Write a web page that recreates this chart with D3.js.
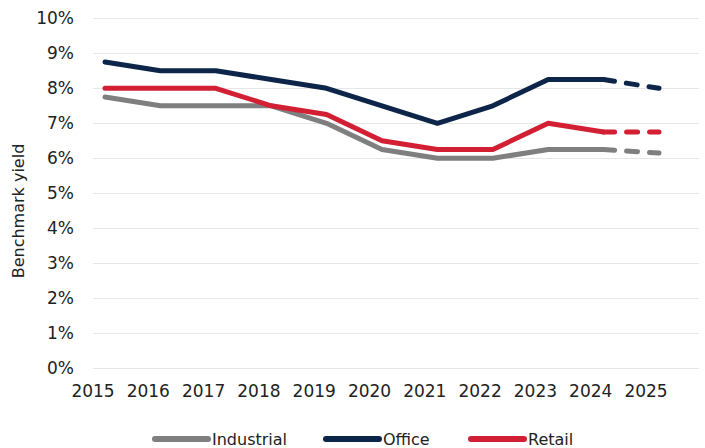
<!DOCTYPE html>
<html>
<head>
<meta charset="utf-8">
<script src="https://cdn.jsdelivr.net/npm/d3@7"></script>
<style>
  html, body { margin: 0; padding: 0; background: #fff; }
  svg { display: block; font-family: "DejaVu Sans", sans-serif; }
</style>
</head>
<body>
<svg id="chart" width="705" height="448"></svg>
<script>
const years = ["2015","2016","2017","2018","2019","2020","2021","2022","2023","2024","2025"];
const industrial = [7.75, 7.5, 7.5, 7.5, 7.0, 6.25, 6.0, 6.0, 6.25, 6.25, 6.15];
const office     = [8.75, 8.5, 8.5, 8.25, 8.0, 7.5, 7.0, 7.5, 8.25, 8.25, 8.0];
const retail     = [8.0, 8.0, 8.0, 7.5, 7.25, 6.5, 6.25, 6.25, 7.0, 6.75, 6.75];
const yTicks = [0,1,2,3,4,5,6,7,8,9,10];
const seriesNames = ["Industrial", "Office", "Retail"];
const seriesColors = ["#7f7f7f", "#0c2548", "#d21f33"];
const forecastFrom = "2024";

const svg = d3.select("#chart");
const x = d3.scalePoint().domain(years).range([105, 659]);
const xLabel = d3.scalePoint().domain(years).range([92.5, 645.5]);
const y = d3.scaleLinear().domain([0, 10]).range([368.3, 18.3]);
const gridX0 = 93, gridX1 = 699;

// gridlines
svg.append("g").selectAll("line").data(yTicks).join("line")
  .attr("x1", gridX0).attr("x2", gridX1)
  .attr("y1", d => Math.round(y(d)) + 0.5).attr("y2", d => Math.round(y(d)) + 0.5)
  .attr("stroke", "#e6e6e6").attr("stroke-width", 1);

// y axis labels
const yAxis = d3.axisLeft(y).tickValues(yTicks).tickFormat(d => d + "%").tickSize(0).tickPadding(0);
const gy = svg.append("g").attr("transform", "translate(74,0)").call(yAxis);
gy.select(".domain").remove();
gy.selectAll("text").attr("font-size", 17).attr("fill", "#222").attr("font-family", "DejaVu Sans, sans-serif");

// x axis labels
const xAxis = d3.axisBottom(xLabel).tickSize(0).tickPadding(0);
const gx = svg.append("g").attr("transform", "translate(0,385)").call(xAxis);
gx.select(".domain").remove();
gx.selectAll("text").attr("font-size", 17).attr("fill", "#222").attr("font-family", "DejaVu Sans, sans-serif");

// y axis title
svg.append("text")
  .attr("transform", "translate(24,211) rotate(-90)")
  .attr("text-anchor", "middle")
  .attr("font-size", 16).attr("fill", "#222")
  .text("Benchmark yield");

// lines
const data = [industrial, office, retail];
const idx = years.indexOf(forecastFrom);
const line = d3.line().x(d => x(d.year)).y(d => y(d.v));
data.forEach((vals, i) => {
  const pts = vals.map((v, j) => ({year: years[j], v}));
  svg.append("path")
    .attr("d", line(pts.slice(0, idx + 1)))
    .attr("fill", "none").attr("stroke", seriesColors[i]).attr("stroke-width", 5)
    .attr("stroke-linejoin", "round").attr("stroke-linecap", "round");
  svg.append("path")
    .attr("d", line(pts.slice(idx)))
    .attr("fill", "none").attr("stroke", seriesColors[i]).attr("stroke-width", 5)
    .attr("stroke-dasharray", "11,12")
    .attr("stroke-linejoin", "round").attr("stroke-linecap", "round");
});

// legend
const legendX = [155, 326, 471];
const legend = svg.append("g");
seriesNames.forEach((name, i) => {
  const g = legend.append("g").attr("transform", `translate(${legendX[i]},439)`);
  g.append("line").attr("x1", 0).attr("x2", 53).attr("y1", 0).attr("y2", 0)
    .attr("stroke", seriesColors[i]).attr("stroke-width", 6).attr("stroke-linecap", "round");
  g.append("text").attr("x", 57).attr("y", 5.5).attr("font-size", 16).attr("fill", "#222").text(name);
});
</script>
</body>
</html>
